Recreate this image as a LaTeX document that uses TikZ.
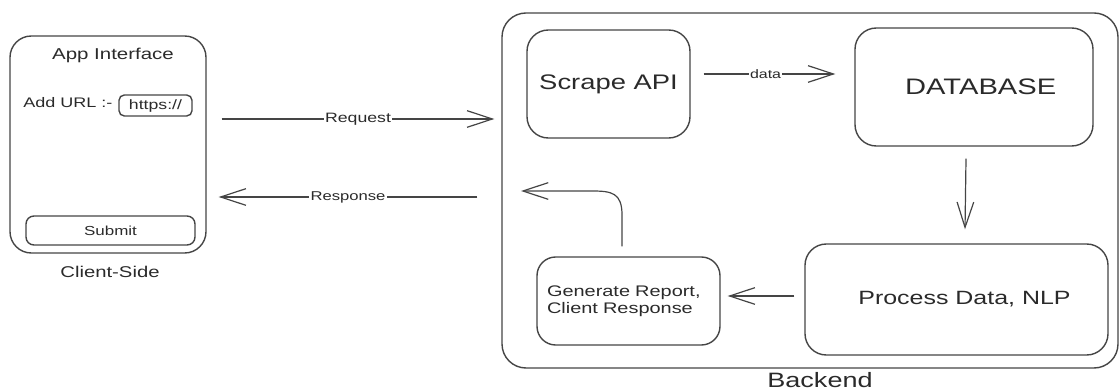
\documentclass[tikz,border=0pt]{standalone}
\usepackage{fontspec}
\setmainfont{Liberation Sans}[FakeStretch=1.3]
\usetikzlibrary{arrows.meta}
\definecolor{ln}{HTML}{454545}
\definecolor{tx}{HTML}{2a2a2a}
\newcommand{\fs}[1]{\fontsize{#1}{#1}\selectfont}
\begin{document}
\begin{tikzpicture}[x=0.75pt,y=-0.75pt,
  box/.style={draw=ln, line width=1.05pt, rounded corners=#1, inner sep=0pt, text=tx},
  box/.default=16pt,
  sz/.style 2 args={minimum width=#1*0.75pt, minimum height=#2*0.75pt},
  arr/.style={draw=ln, line width=0.9pt, -{Straight Barb[length=19pt,width=12.5pt,line width=0.9pt]}},
  lab/.style={text=tx, inner sep=0pt},
  onl/.style={fill=white, inner sep=1pt, text=tx}
]
\useasboundingbox (0,0) rectangle (1120,391);

% client side
\node[box=16pt, sz={196}{217}] (client) at (108,144.5) {};
\node[lab, font=\fs{11.8}] (apptitle) at (113,55) {App Interface};
\node[lab, anchor=west, font=\fs{10.4}] (addurl) at (23,103) {Add URL :-};
\node[box=4pt, sz={73}{21}, font=\fs{10.2}] (https) at (155.5,105.5) {https://};
\node[box=6pt, sz={169}{29}, font=\fs{9.8}] (submit) at (110.5,230.5) {Submit};
\node[lab, font=\fs{11.7}] (clientlbl) at (110,272) {Client-Side};

% backend
\node[box=18pt, sz={616}{355}] (backend) at (810,190.5) {};
\node[lab, font=\fs{15.6}] (backendlbl) at (820,380) {Backend};
\node[box=16pt, sz={163}{108}, font=\fs{15.8}] (scrape) at (608.5,84) {Scrape API};
\node[box=16pt, sz={238}{118}, font=\fs{16.8}] (db) at (974,87) {\hspace*{10pt}DATABASE};
\node[box=16pt, sz={303}{111}, font=\fs{14.4}] (proc) at (956.5,299.5) {\hspace*{12pt}Process Data, NLP};
\node[box=14pt, sz={183}{88}, text width=163*0.75pt, align=left,
      font=\fontsize{11.5}{12.75}\selectfont] (gen) at (628.5,301) {Generate Report,\\Client Response};

% connectors
\draw[arr] ([shift={(15,-25.5)}]client.east) -- node[onl, font=\fs{10.2}]{Request} ([shift={(-7,-71.5)}]backend.west);
\draw[arr] ([shift={(-24,6.5)}]backend.west) -- node[onl, font=\fs{9.6}]{Response} ([shift={(12,52.5)}]client.east);
\draw[arr] ([shift={(13,-10)}]scrape.east) -- node[onl, pos=0.47, font=\fs{9.2}]{data} ([shift={(-19,-13)}]db.west);
\draw[arr] ([shift={(-8,12)}]db.south) -- ([shift={(8.5,-14)}]proc.north);
\draw[arr] ([shift={(-10,-3.5)}]proc.west) -- ([shift={(7,-5)}]gen.east);
\coordinate (retend) at (521,191);
\draw[arr] ([shift={(-6.5,-10)}]gen.north) -- (622,215) .. controls (622,193) and (612,191) .. (592,191) -- (retend);
\end{tikzpicture}
\end{document}
